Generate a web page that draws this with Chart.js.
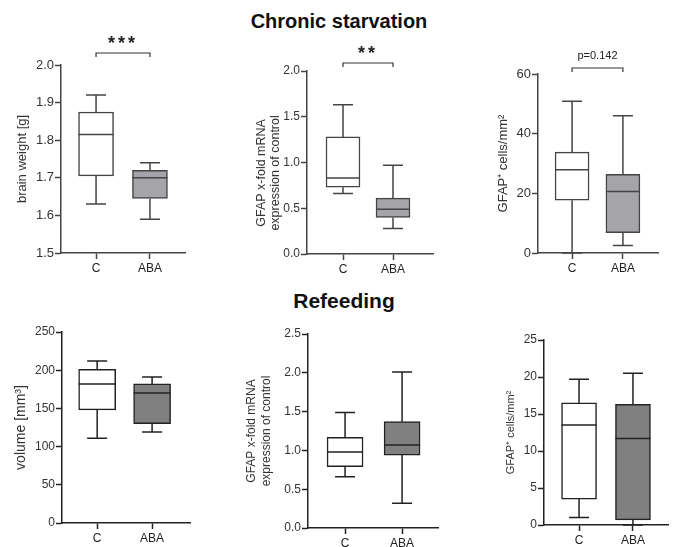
<!DOCTYPE html>
<html>
<head>
<meta charset="utf-8">
<script src="https://cdn.jsdelivr.net/npm/chart.js@4.4.1/dist/chart.umd.min.js"></script>
<style>
html, body { margin: 0; padding: 0; background: #fff; width: 678px; height: 547px; overflow: hidden; position: relative; font-family: "Liberation Sans", Arial, sans-serif; }
canvas { position: absolute; }
.head { position: absolute; left: 0; width: 678px; text-align: center; font-weight: bold; color: #111; line-height: 24px; }
</style>
</head>
<body>
<div class="head" style="top:9px;font-size:20px">Chronic starvation</div>
<div class="head" style="top:289px;left:5px;font-size:21px">Refeeding</div>
<script>
const categories = ['C', 'ABA'];

// each group: [min, q1, median, q3, max]
const brainC = [1.63, 1.705, 1.815, 1.875, 1.92];
const brainABA = [1.59, 1.645, 1.70, 1.72, 1.74];
const mrnaStarvC = [0.66, 0.73, 0.83, 1.28, 1.63];
const mrnaStarvABA = [0.28, 0.40, 0.49, 0.61, 0.97];
const cellsStarvC = [0, 17.7, 27.9, 33.8, 50.9];
const cellsStarvABA = [2.5, 6.8, 20.6, 26.4, 46];
const volumeC = [111, 148, 182, 201, 212];
const volumeABA = [119, 130, 170, 182, 191];
const mrnaRefedC = [0.66, 0.79, 0.98, 1.17, 1.49];
const mrnaRefedABA = [0.32, 0.94, 1.07, 1.37, 2.01];
const cellsRefedC = [1.0, 3.5, 13.5, 16.5, 19.7];
const cellsRefedABA = [0, 0.7, 11.7, 16.3, 20.5];

const brainTicks = [1.5, 1.6, 1.7, 1.8, 1.9, 2.0];
const mrnaStarvTicks = [0, 0.5, 1.0, 1.5, 2.0];
const cellsStarvTicks = [0, 20, 40, 60];
const volumeTicks = [0, 50, 100, 150, 200, 250];
const mrnaRefedTicks = [0, 0.5, 1.0, 1.5, 2.0, 2.5];
const cellsRefedTicks = [0, 5, 10, 15, 20, 25];

const sigLabels = ['***', '**', 'p=0.142'];

const FONT = '"Liberation Sans", Arial, sans-serif';

const boxPlugin = {
    id: 'boxWhisker',
    afterDatasetsDraw(chart, args, opts) {
        const { ctx, scales: { x, y } } = chart;
        const half = opts.boxWidth / 2;
        const cap = opts.capWidth / 2;
        ctx.save();
        ctx.strokeStyle = opts.color;
        ctx.lineWidth = 1.5;
        opts.stats.forEach((s, i) => {
            const px = x.getPixelForValue(i);
            const yMin = y.getPixelForValue(s[0]);
            const yQ1 = y.getPixelForValue(s[1]);
            const yMed = y.getPixelForValue(s[2]);
            const yQ3 = y.getPixelForValue(s[3]);
            const yMax = y.getPixelForValue(s[4]);
            ctx.beginPath();
            ctx.moveTo(px, yQ3); ctx.lineTo(px, yMax);
            ctx.moveTo(px - cap, yMax); ctx.lineTo(px + cap, yMax);
            ctx.moveTo(px, yQ1); ctx.lineTo(px, yMin);
            ctx.moveTo(px - cap, yMin); ctx.lineTo(px + cap, yMin);
            ctx.moveTo(px - half, yMed); ctx.lineTo(px + half, yMed);
            ctx.stroke();
        });
        if (opts.sig) {
            const x0 = x.getPixelForValue(0);
            const x1 = x.getPixelForValue(1);
            const by = chart.chartArea.top - opts.sig.bracketGap;
            ctx.lineWidth = 1.2;
            ctx.strokeStyle = '#333';
            ctx.beginPath();
            ctx.moveTo(x0, by + 4); ctx.lineTo(x0, by); ctx.lineTo(x1, by); ctx.lineTo(x1, by + 4);
            ctx.stroke();
            ctx.fillStyle = '#222';
            ctx.font = opts.sig.font;
            ctx.textAlign = 'center';
            ctx.textBaseline = 'middle';
            if (opts.sig.spacing) ctx.letterSpacing = opts.sig.spacing;
            ctx.fillText(opts.sig.text, (x0 + x1) / 2, by - opts.sig.textGap);
        }
        ctx.restore();
    }
};

function makePanel(p) {
    const yAxisW = 75, padTop = 45, padRight = 15, xAxisH = 30;
    const [left, top, right, bottom] = p.area;
    const canvas = document.createElement('canvas');
    canvas.width = right - left + yAxisW + padRight;
    canvas.height = bottom - top + padTop + xAxisH;
    canvas.style.left = (left - yAxisW) + 'px';
    canvas.style.top = (top - padTop) + 'px';
    document.body.appendChild(canvas);

    const lh = p.titleSize * p.titleLH;
    const titlePad = p.titleX - (left - yAxisW) - lh / 2;

    return new Chart(canvas.getContext('2d'), {
        type: 'bar',
        data: {
            datasets: [{
                data: p.stats.map((s, i) => ({ x: i, y: [s[1], s[3]] })),
                backgroundColor: ['#ffffff', p.fill],
                borderColor: p.color,
                borderWidth: 1.5,
                borderSkipped: false,
                barThickness: p.boxWidth
            }]
        },
        options: {
            responsive: false,
            animation: false,
            layout: { padding: { top: padTop, right: padRight, left: 0, bottom: 0 } },
            plugins: {
                legend: { display: false },
                tooltip: { enabled: false },
                boxWhisker: { stats: p.stats, boxWidth: p.boxWidth, capWidth: 20, color: p.color, sig: p.sig }
            },
            scales: {
                x: {
                    type: 'linear',
                    offset: false,
                    min: p.xRange[0],
                    max: p.xRange[1],
                    afterBuildTicks: (scale) => { scale.ticks = categories.map((c, i) => ({ value: i })); },
                    afterFit: (scale) => { scale.height = xAxisH; },
                    ticks: {
                        callback: (v) => categories[v],
                        color: '#222',
                        padding: 2,
                        font: { family: FONT, size: 12 }
                    },
                    grid: { offset: false, drawOnChartArea: false, tickLength: 6, tickColor: p.color, tickWidth: 1.5 },
                    border: { color: p.color, width: 1.5 }
                },
                y: {
                    min: p.ticks[0],
                    max: p.ticks[p.ticks.length - 1],
                    afterBuildTicks: (scale) => { scale.ticks = p.ticks.map(v => ({ value: v })); },
                    afterFit: (scale) => { scale.width = yAxisW; },
                    ticks: {
                        callback: (v) => v.toFixed(p.decimals),
                        color: '#333',
                        padding: 1,
                        font: { family: FONT, size: p.tickSize }
                    },
                    grid: { drawOnChartArea: false, tickLength: 6, tickColor: p.color, tickWidth: 1.5 },
                    border: { color: p.color, width: 1.5 },
                    title: {
                        display: true,
                        text: p.title,
                        color: '#333',
                        font: { family: FONT, size: p.titleSize, lineHeight: p.titleLH },
                        padding: { top: titlePad, bottom: 0 }
                    }
                }
            }
        },
        plugins: [boxPlugin]
    });
}

const topColor = '#444';
const botColor = '#222';

makePanel({
    area: [61, 65, 185, 253], xRange: [-0.65, 1.65], ticks: brainTicks, decimals: 1,
    stats: [brainC, brainABA], fill: '#a4a4a9', color: topColor, boxWidth: 35, tickSize: 13,
    title: 'brain weight [g]', titleSize: 13, titleLH: 1.2, titleX: 22,
    sig: { text: sigLabels[0], font: 'bold 18px ' + FONT, spacing: '3px', bracketGap: 12, textGap: 9 }
});
makePanel({
    area: [307, 71, 433, 254], xRange: [-0.72, 1.8], ticks: mrnaStarvTicks, decimals: 1,
    stats: [mrnaStarvC, mrnaStarvABA], fill: '#a4a4a9', color: topColor, boxWidth: 34, tickSize: 12,
    // trailing spaces push the rotated label a little lower, as in the original
    title: ['GFAP x-fold mRNA      ', 'expression of control      '], titleSize: 12.5, titleLH: 1.05, titleX: 262,
    sig: { text: sigLabels[1], font: 'bold 18px ' + FONT, spacing: '3px', bracketGap: 8, textGap: 9 }
});
makePanel({
    area: [538, 74, 658, 253], xRange: [-0.67, 1.69], ticks: cellsStarvTicks, decimals: 0,
    stats: [cellsStarvC, cellsStarvABA], fill: '#a4a4a9', color: topColor, boxWidth: 34, tickSize: 13,
    title: 'GFAP\u207A cells/mm\u00B2', titleSize: 13, titleLH: 1.2, titleX: 503,
    sig: { text: sigLabels[2], font: '11px ' + FONT, bracketGap: 6, textGap: 12 }
});
makePanel({
    area: [62, 332, 190, 523], xRange: [-0.64, 1.69], ticks: volumeTicks, decimals: 0,
    stats: [volumeC, volumeABA], fill: '#808080', color: botColor, boxWidth: 37, tickSize: 12,
    title: 'volume [mm\u00B3]', titleSize: 14, titleLH: 1.2, titleX: 21
});
makePanel({
    area: [308, 334, 438, 528], xRange: [-0.65, 1.63], ticks: mrnaRefedTicks, decimals: 1,
    stats: [mrnaRefedC, mrnaRefedABA], fill: '#808080', color: botColor, boxWidth: 36, tickSize: 12,
    title: ['GFAP x-fold mRNA', 'expression of control'], titleSize: 12, titleLH: 1.25, titleX: 252
});
makePanel({
    area: [544, 340, 668, 525], xRange: [-0.65, 1.65], ticks: cellsRefedTicks, decimals: 0,
    stats: [cellsRefedC, cellsRefedABA], fill: '#808080', color: botColor, boxWidth: 35, tickSize: 12,
    title: 'GFAP\u207A cells/mm\u00B2', titleSize: 11, titleLH: 1.2, titleX: 511
});
</script>
</body>
</html>
